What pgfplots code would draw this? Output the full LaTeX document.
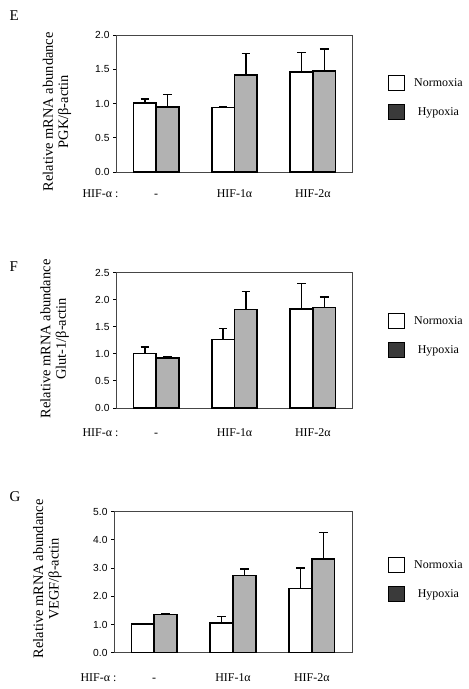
\documentclass[border=0pt]{standalone}
\usepackage{fontspec}
\setmainfont{Liberation Serif}
\newfontfamily\arial{Liberation Sans}
\usepackage{pgfplots}
\pgfplotsset{compat=1.18}
\definecolor{hypbar}{RGB}{178,178,178}
\definecolor{hypleg}{RGB}{58,58,58}
\definecolor{framegray}{RGB}{70,70,70}

\pgfplotsset{
 panel/.style={
  scale only axis, width=236bp, anchor=south west,
  xmin=-0.513, xmax=2.5, ymin=0,
  xtick={0,1,2}, xticklabels={-, HIF-1α, HIF-2α},
  x tick style={draw=none},
  xticklabel style={font=\fontsize{12}{14}\selectfont, anchor=base},
  tick align=outside, ytick pos=left, major tick length=3bp,
  y tick style={line width=0.9bp, black},
  yticklabel style={font=\arial\fontsize{10.3}{11}\selectfont},
  /pgf/number format/assume math mode=true,
  yticklabel={\pgfmathprintnumber[fixed,fixed zerofill,precision=1]{\tick}},
  axis line style={line width=0.9bp, framegray},
  ylabel style={font=\fontsize{14.5}{15.5}\selectfont, align=center, anchor=center},
  clip=false,
  legend image code/.code={\draw[##1] (0bp,-7.5bp) rectangle (16bp,7.5bp);},
  legend style={draw=none, fill=none, anchor=north west, inner sep=0pt,
    row sep=13bp, font=\fontsize{12}{14}\selectfont, nodes={inner sep=1bp},
    /tikz/every odd column/.style={column sep=8bp}},
  legend cell align=center,
 },
 nbar/.style={ybar, bar width=0.29, bar shift=0, fill=white, draw=black, line width=1.6bp, forget plot,
   error bars/.cd, y dir=plus, y explicit, error bar style={line width=1.4bp, black},
   error mark options={rotate=90, mark size=4.3bp, line width=1.4bp, black}},
 hbar/.style={ybar, bar width=0.29, bar shift=0, fill=hypbar, draw=black, line width=1.6bp, forget plot,
   error bars/.cd, y dir=plus, y explicit, error bar style={line width=1.4bp, black},
   error mark options={rotate=90, mark size=4.3bp, line width=1.4bp, black}},
}

\begin{document}
\begin{tikzpicture}[x=1bp,y=1bp]
\useasboundingbox (0,0) rectangle (469,689);

% Panel E
\begin{axis}[panel, at={(116bp,517bp)}, height=137bp, ymax=2, ytick={0,0.5,1,1.5,2},
  ylabel={Relative mRNA abundance\\PGK/β-actin},
  ylabel style={at={(axis description cs:-0.25,0.44)}},
  legend style={at={(axis description cs:1.1525,0.708)}},
  xticklabel style={yshift=-22.7bp}]
\addplot[nbar] coordinates {(-0.145,1.005) +- (0,0.06) (0.855,0.94) +- (0,0.015) (1.855,1.456) +- (0,0.29)};
\addplot[hbar] coordinates {(0.145,0.947) +- (0,0.18) (1.145,1.42) +- (0,0.31) (2.145,1.476) +- (0,0.32)};
\addlegendimage{fill=white, draw=black, line width=1bp}
\addlegendentry{Normoxia}
\addlegendimage{fill=hypleg, draw=black, line width=1bp}
\addlegendentry{Hypoxia}
\node[anchor=base west, font=\fontsize{12}{14}\selectfont] at ([xshift=-37bp,yshift=-26bp]rel axis cs:0,0) {HIF-α :};
\end{axis}

% Panel F
\begin{axis}[panel, at={(116bp,281bp)}, height=135.3bp, ymax=2.5, ytick={0,0.5,1,1.5,2,2.5},
  ylabel={Relative mRNA abundance\\Glut-1/β-actin},
  ylabel style={at={(axis description cs:-0.26,0.51)}},
  legend style={at={(axis description cs:1.1525,0.702)}},
  xticklabel style={yshift=-25.4bp}]
\addplot[nbar] coordinates {(-0.145,1.007) +- (0,0.12) (0.855,1.265) +- (0,0.20) (1.855,1.83) +- (0,0.47)};
\addplot[hbar] coordinates {(0.145,0.928) +- (0,0.015) (1.145,1.818) +- (0,0.33) (2.145,1.855) +- (0,0.195)};
\addlegendimage{fill=white, draw=black, line width=1bp}
\addlegendentry{Normoxia}
\addlegendimage{fill=hypleg, draw=black, line width=1bp}
\addlegendentry{Hypoxia}
\node[anchor=base west, font=\fontsize{12}{14}\selectfont] at ([xshift=-37bp,yshift=-28.7bp]rel axis cs:0,0) {HIF-α :};
\end{axis}

% Panel G
\begin{axis}[panel, at={(114bp,36.3bp)}, width=238bp, height=141bp, xmin=-0.51, xmax=2.51,
  ymax=5, ytick={0,1,2,3,4,5},
  ylabel={Relative mRNA abundance\\VEGF/β-actin},
  ylabel style={at={(axis description cs:-0.28,0.523)}},
  legend style={at={(axis description cs:1.151,0.679)}},
  xticklabel style={yshift=-25.7bp}]
\addplot[nbar] coordinates {(-0.145,1.017) +- (0,0.01) (0.855,1.05) +- (0,0.23) (1.855,2.28) +- (0,0.72)};
\addplot[hbar] coordinates {(0.145,1.36) +- (0,0.01) (1.145,2.74) +- (0,0.23) (2.145,3.32) +- (0,0.95)};
\addlegendimage{fill=white, draw=black, line width=1bp}
\addlegendentry{Normoxia}
\addlegendimage{fill=hypleg, draw=black, line width=1bp}
\addlegendentry{Hypoxia}
\node[anchor=base west, font=\fontsize{12}{14}\selectfont] at ([xshift=-37bp,yshift=-29bp]rel axis cs:0,0) {HIF-α :};
\end{axis}

\node[anchor=base west, font=\fontsize{15}{16}\selectfont] at (6,668.3) {E};
\node[anchor=base west, font=\fontsize{15}{16}\selectfont] at (6,417.3) {F};
\node[anchor=base west, font=\fontsize{15}{16}\selectfont] at (6,187) {G};
\end{tikzpicture}
\end{document}
